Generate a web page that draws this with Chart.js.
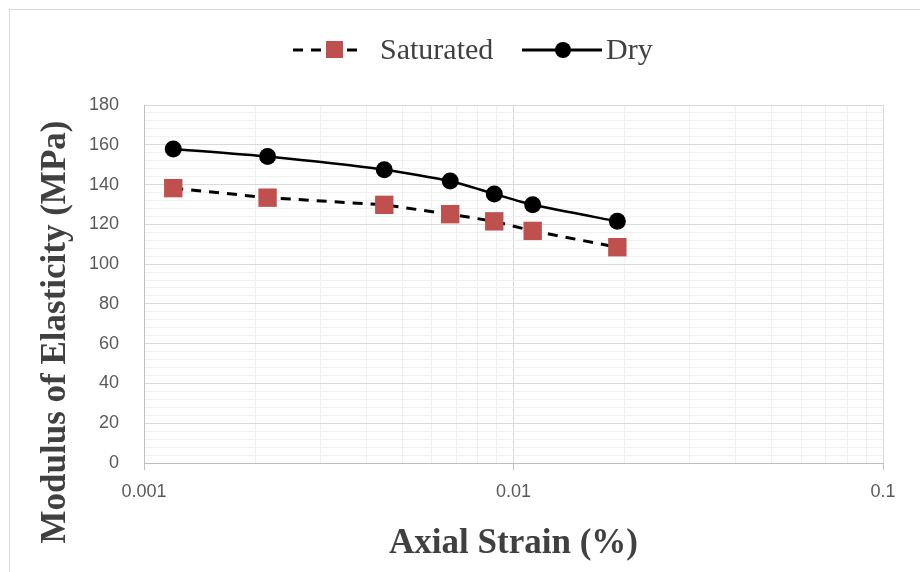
<!DOCTYPE html>
<html>
<head>
<meta charset="utf-8">
<style>
  html, body { margin: 0; padding: 0; background: #ffffff; }
  #wrap { width: 920px; height: 572px; position: relative; }
</style>
<script src="https://cdn.jsdelivr.net/npm/chart.js@4/dist/chart.umd.min.js"></script>
</head>
<body>
<div id="wrap"><canvas id="c" width="920" height="572"></canvas></div>
<script>
// ---- data ----
const strain = [0.0012, 0.00216, 0.00447, 0.00674, 0.00887, 0.01127, 0.0191];
const saturated = [138.2, 133.4, 129.8, 125.1, 121.5, 116.7, 108.5];
const dry = [157.9, 154.1, 147.5, 141.8, 135.3, 129.8, 121.5];
const xTickLabels = ['0.001', '0.01', '0.1'];
const yTickLabels = [0, 20, 40, 60, 80, 100, 120, 140, 160, 180];
const seriesNames = ['Saturated', 'Dry'];
const xTitle = 'Axial Strain (%)';
const yTitle = 'Modulus of Elasticity (MPa)';

const xMajor = xTickLabels.map(Number);
const yMinorStep = 4;

const MAJOR = '#d9d9d9';
const MINOR = '#f0f0f0';
const TICKFONT = { family: '"Liberation Sans", Arial, sans-serif', size: 18 };
const SERIF = '"Liberation Serif", "Times New Roman", serif';

function isMajorX(v) {
  return xMajor.some(m => Math.abs(m - v) / m < 1e-6);
}
function isMajorY(v) {
  return yTickLabels.includes(v);
}

const framePlugin = {
  id: 'frame',
  beforeDraw(chart) {
    const ctx = chart.ctx;
    ctx.save();
    ctx.strokeStyle = '#d9d9d9';
    ctx.lineWidth = 1;
    ctx.strokeRect(9.5, 9.5, 940, 600);
    ctx.restore();
  }
};

const extrasPlugin = {
  id: 'extras',
  afterDraw(chart) {
    const ctx = chart.ctx;
    ctx.save();
    // y-axis title
    ctx.translate(56, 332);
    ctx.rotate(-Math.PI / 2);
    ctx.font = 'bold 35px ' + SERIF;
    ctx.fillStyle = '#404040';
    ctx.textAlign = 'center';
    ctx.textBaseline = 'middle';
    ctx.fillText(yTitle, 0, 0);
    ctx.restore();

    // legend
    ctx.save();
    const ly = 50;
    ctx.lineWidth = 3;
    ctx.strokeStyle = '#000';
    ctx.setLineDash([10, 8]);
    ctx.beginPath(); ctx.moveTo(293, ly); ctx.lineTo(362, ly); ctx.stroke();
    ctx.setLineDash([]);
    ctx.fillStyle = '#c0504d';
    ctx.fillRect(326, ly - 9, 17, 17);
    ctx.beginPath(); ctx.moveTo(522, ly); ctx.lineTo(602, ly); ctx.stroke();
    ctx.fillStyle = '#000';
    ctx.beginPath(); ctx.arc(563, ly, 8, 0, Math.PI * 2); ctx.fill();
    ctx.font = '30px ' + SERIF;
    ctx.fillStyle = '#404040';
    ctx.textAlign = 'left';
    ctx.textBaseline = 'middle';
    ctx.fillText(seriesNames[0], 380, ly + 1);
    ctx.fillText(seriesNames[1], 606, ly + 1);
    ctx.restore();
  }
};

new Chart(document.getElementById('c'), {
  type: 'line',
  data: {
    datasets: [
      {
        label: seriesNames[0],
        data: strain.map((x, i) => ({ x: x, y: saturated[i] })),
        borderColor: '#000000',
        borderWidth: 3,
        borderDash: [10, 8],
        tension: 0,
        pointStyle: 'rect',
        pointRadius: 13,
        pointBackgroundColor: '#c0504d',
        pointBorderColor: '#c0504d',
        pointBorderWidth: 0,
        fill: false
      },
      {
        label: seriesNames[1],
        data: strain.map((x, i) => ({ x: x, y: dry[i] })),
        borderColor: '#000000',
        borderWidth: 2.5,
        tension: 0.2,
        pointStyle: 'circle',
        pointRadius: 8.5,
        pointBackgroundColor: '#000000',
        pointBorderColor: '#000000',
        pointBorderWidth: 0,
        fill: false
      }
    ]
  },
  options: {
    responsive: false,
    animation: false,
    events: [],
    layout: { padding: { top: 105, right: 37, left: 0, bottom: 0 } },
    plugins: {
      legend: { display: false },
      tooltip: { enabled: false },
      title: { display: false }
    },
    scales: {
      x: {
        type: 'logarithmic',
        min: xMajor[0],
        max: xMajor[xMajor.length - 1],
        afterBuildTicks(scale) {
          const ticks = [];
          for (let d = 0; d < xMajor.length; d++) {
            const base = xMajor[d];
            ticks.push({ value: base });
            if (d < xMajor.length - 1) {
              for (let k = 2; k <= 9; k++) ticks.push({ value: +(base * k).toPrecision(6) });
            }
          }
          scale.ticks = ticks;
        },
        afterFit(scale) { scale.height = 109; },
        border: { display: true, color: '#bfbfbf', width: 1 },
        grid: {
          drawOnChartArea: true,
          drawTicks: true,
          tickLength: 7,
          color: ctx => (ctx.tick && isMajorX(ctx.tick.value)) ? MAJOR : MINOR,
          tickColor: ctx => (ctx.tick && isMajorX(ctx.tick.value)) ? '#bfbfbf' : 'rgba(0,0,0,0)',
          lineWidth: 1
        },
        ticks: {
          autoSkip: false,
          maxRotation: 0,
          padding: 11,
          color: '#595959',
          font: TICKFONT,
          callback: function (v) {
            const idx = xMajor.findIndex(m => Math.abs(m - v) / m < 1e-6);
            return idx >= 0 ? xTickLabels[idx] : '';
          }
        },
        title: {
          display: true,
          text: xTitle,
          color: '#404040',
          font: { family: SERIF, size: 35, weight: 'bold' },
          padding: { top: 0, bottom: 7 }
        }
      },
      y: {
        type: 'linear',
        min: yTickLabels[0],
        max: yTickLabels[yTickLabels.length - 1],
        afterBuildTicks(scale) {
          const ticks = [];
          for (let v = yTickLabels[0]; v <= yTickLabels[yTickLabels.length - 1]; v += yMinorStep) ticks.push({ value: v });
          scale.ticks = ticks;
        },
        afterFit(scale) { scale.width = 144; },
        border: { display: true, color: '#bfbfbf', width: 1 },
        grid: {
          drawTicks: false,
          color: ctx => (ctx.tick && isMajorY(ctx.tick.value)) ? MAJOR : MINOR,
          lineWidth: 1
        },
        ticks: {
          autoSkip: false,
          padding: 25,
          color: '#595959',
          font: TICKFONT,
          callback: v => isMajorY(v) ? String(v) : ''
        },
        title: { display: false }
      }
    }
  },
  plugins: [framePlugin, extrasPlugin]
});
</script>
</body>
</html>
